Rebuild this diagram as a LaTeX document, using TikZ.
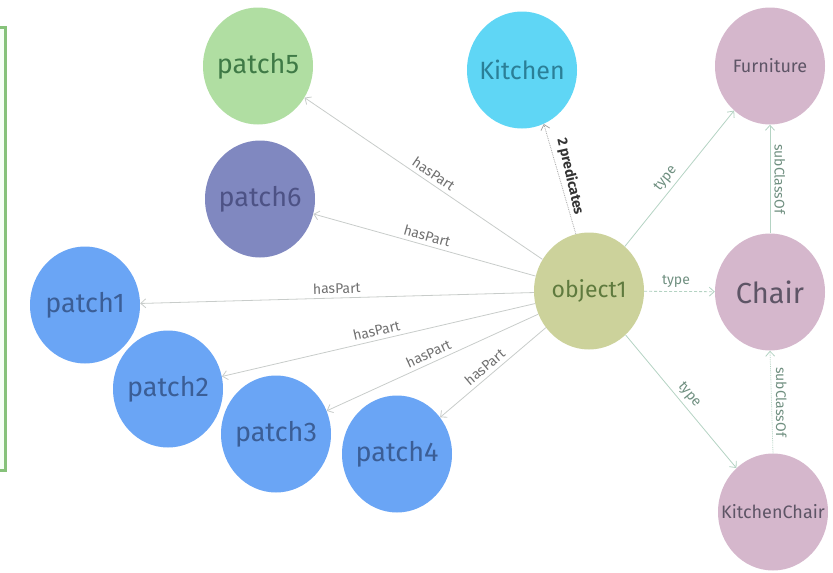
\documentclass[tikz,border=0pt]{standalone}
\usepackage{fontspec}
\setmainfont{Fira Sans}
\usetikzlibrary{arrows.meta,shapes.geometric}
\newcommand\zb[1]{\makebox[0pt]{#1}}
\definecolor{pblue}{HTML}{6AA5F5}
\definecolor{pbluetxt}{HTML}{3B5E96}
\definecolor{pgreen}{HTML}{B0DEA2}
\definecolor{pgreentxt}{HTML}{3F7A46}
\definecolor{pslate}{HTML}{8088C0}
\definecolor{pslatetxt}{HTML}{4D5285}
\definecolor{pcyan}{HTML}{5FD6F5}
\definecolor{pcyantxt}{HTML}{2B7F97}
\definecolor{pmauve}{HTML}{D5B7CC}
\definecolor{pmauvetxt}{HTML}{5E5566}
\definecolor{pkhaki}{HTML}{CCD29B}
\definecolor{pkhakitxt}{HTML}{5F7A3E}
\definecolor{edgegray}{HTML}{C8CCCA}
\definecolor{edgegreen}{HTML}{B4D3C3}
\definecolor{labgray}{HTML}{707070}
\definecolor{labgreen}{HTML}{6F8F80}
\definecolor{panelgreen}{HTML}{86C27A}
\tikzset{
  ball/.style={ellipse, minimum width=110pt, minimum height=117pt, inner sep=0pt},
  blueball/.style={ball, fill=pblue, text=pbluetxt, font=\fontsize{27}{27}\selectfont},
  mauveball/.style={ball, fill=pmauve, text=pmauvetxt},
  rel/.style={draw=edgegray, line width=0.8pt, -{Straight Barb[length=5pt,width=9pt]}},
  typerel/.style={draw=edgegreen, line width=0.8pt, -{Straight Barb[length=5pt,width=9pt]}},
  lab/.style={font=\fontsize{14}{14}\selectfont, text=labgray, inner sep=4pt},
  tlab/.style={font=\fontsize{14}{14}\selectfont, text=labgreen, inner sep=4pt}
}
\begin{document}
\begin{tikzpicture}[x=1pt,y=-1pt]
\useasboundingbox (0,0) rectangle (833,573);
% partial panel at the left edge
\draw[draw=panelgreen, line width=3pt, fill=green!4] (-20,27) rectangle (5,470);

% nodes
\node[ball, fill=pgreen, text=pgreentxt, font=\fontsize{27}{27}\selectfont] (patch5) at (258,66) {\zb{patch5}};
\node[ball, fill=pcyan, text=pcyantxt, font=\fontsize{25}{25}\selectfont] (kitchen) at (522,70) {\zb{Kitchen}};
\node[mauveball, font=\fontsize{18}{18}\selectfont] (furniture) at (770,66) {\zb{Furniture}};
\node[ball, fill=pslate, text=pslatetxt, font=\fontsize{27}{27}\selectfont] (patch6) at (260,199) {\zb{patch6}};
\node[ball, fill=pkhaki, text=pkhakitxt, font=\fontsize{23}{23}\selectfont] (object1) at (589,291) {\zb{object1}};
\node[mauveball, font=\fontsize{29}{29}\selectfont] (chair) at (770,292) {\zb{Chair}};
\node[blueball] (patch1) at (85,305) {\zb{patch1}};
\node[blueball] (patch2) at (168,389) {\zb{patch2}};
\node[blueball] (patch3) at (276,434) {\zb{patch3}};
\node[blueball] (patch4) at (397,454) {\zb{patch4}};
\node[mauveball, font=\fontsize{18}{18}\selectfont] (kchair) at (773,512) {\zb{KitchenChair}};

% edges
\draw[rel] (object1) -- node[lab, sloped, above, pos=0.48] {hasPart} (patch5);
\draw[rel] (object1) -- node[lab, sloped, above, pos=0.5] {hasPart} (patch6);
\draw[rel] (object1) -- node[lab, sloped, above, pos=0.5] {hasPart} (patch1);
\draw[rel] (object1) -- node[lab, sloped, above, pos=0.5] {hasPart} (patch2);
\draw[rel] (object1) -- node[lab, sloped, above, pos=0.5] {hasPart} (patch3);
\draw[rel] (object1) -- node[lab, sloped, above, pos=0.52] {hasPart} (patch4);
\draw[rel, densely dotted, draw=gray!70] (object1.103) -- node[midway, rotate=-77, anchor=south, font=\bfseries\fontsize{14}{14}\selectfont, text=black!80, inner sep=3pt] {2 predicates} (kitchen.-68);
\draw[typerel] (object1) -- node[tlab, sloped, above, pos=0.45] {type} (furniture);
\draw[typerel, densely dashed] (object1) -- node[tlab, above, pos=0.45] {type} (chair);
\draw[typerel] (object1) -- node[tlab, sloped, above, pos=0.5] {type} (kchair);
\draw[typerel] (chair.north) -- node[tlab, midway, rotate=-90, anchor=south] {subClassOf} (furniture.south);
\draw[typerel, densely dotted] (kchair.north) -- node[tlab, midway, rotate=-90, anchor=south] {subClassOf} (chair.south);
\end{tikzpicture}
\end{document}
